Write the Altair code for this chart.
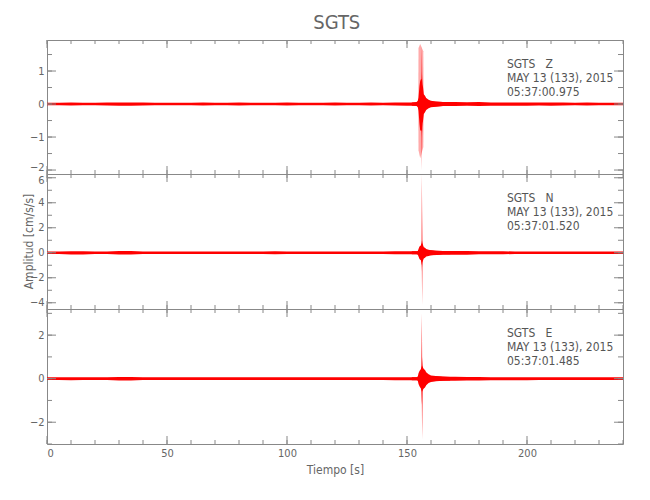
import altair as alt
import pandas as pd

# ---------------- data ----------------
# background envelope, sampled every 5 s (half amplitude)
t_bg = [0, 5, 10, 15, 20, 25, 30, 35, 40, 45, 50, 55, 60, 65, 70, 75, 80, 85,
        90, 95, 100, 105, 110, 115, 120, 125, 130, 135, 140, 145, 150, 155,
        160, 165, 170, 175, 180, 185, 190, 195, 200, 205, 210, 215, 220, 225,
        230, 235, 240]
z_bg = [0.04, 0.04, 0.045, 0.04, 0.04, 0.045, 0.05, 0.05, 0.045, 0.04, 0.04, 0.04,
        0.04, 0.045, 0.04, 0.04, 0.045, 0.04, 0.04, 0.04, 0.045, 0.04, 0.04, 0.04,
        0.045, 0.04, 0.04, 0.045, 0.04, 0.045, 0.05, 0.05, 0.08, 0.06,
        0.06, 0.055, 0.06, 0.05, 0.05, 0.05,
        0.05, 0.045, 0.05, 0.045, 0.04, 0.045, 0.04, 0.04, 0.04]
n_bg = [0.1, 0.1, 0.13, 0.13, 0.1, 0.1, 0.14, 0.14, 0.1, 0.1, 0.1, 0.1,
        0.1, 0.1, 0.1, 0.1, 0.1, 0.1, 0.1, 0.12, 0.1, 0.1, 0.1, 0.1,
        0.1, 0.1, 0.1, 0.1, 0.1, 0.12, 0.12, 0.12, 0.2, 0.15,
        0.15, 0.15, 0.12, 0.12, 0.12, 0.1,
        0.1, 0.1, 0.1, 0.1, 0.1, 0.1, 0.1, 0.1, 0.1]
e_bg = [0.06, 0.06, 0.07, 0.06, 0.06, 0.06, 0.08, 0.08, 0.06, 0.06, 0.06, 0.06,
        0.06, 0.06, 0.06, 0.06, 0.06, 0.06, 0.06, 0.06, 0.06, 0.06, 0.06, 0.06,
        0.06, 0.06, 0.06, 0.06, 0.06, 0.07, 0.07, 0.07, 0.12, 0.09,
        0.09, 0.08, 0.08, 0.07, 0.07, 0.07,
        0.07, 0.06, 0.06, 0.06, 0.06, 0.06, 0.06, 0.06, 0.06]

# event envelope (upper / lower)
t_ev = [152, 154, 154.5, 154.8, 155.2, 155.5, 155.8, 156.0, 156.1, 156.2, 156.3,
        156.4, 156.5, 156.7, 157.0, 157.5, 158.0, 159.0, 160.0, 162.0, 165.0, 168.0]
z_hi = [0.05, 0.06, 0.1, 0.2, 0.55, 0.7, 0.75, 0.75, 1.0, 1.76, 0.9,
        0.7, 0.6, 0.5, 0.3, 0.25, 0.18, 0.13, 0.1, 0.08, 0.06, 0.05]
z_lo = [-0.05, -0.06, -0.1, -0.2, -0.6, -0.8, -0.8, -0.8, -1.0, -2.02, -0.9,
        -0.7, -0.6, -0.5, -0.3, -0.25, -0.18, -0.13, -0.1, -0.08, -0.06, -0.05]
n_hi = [0.12, 0.12, 0.15, 0.3, 0.5, 0.55, 0.6, 0.8, 1.0, 6.3, 3.3,
        1.0, 0.8, 0.6, 0.45, 0.4, 0.3, 0.25, 0.2, 0.15, 0.12, 0.12]
n_lo = [-0.12, -0.12, -0.15, -0.3, -0.5, -0.55, -0.6, -0.9, -1.0, -1.5, -4.2,
        -1.2, -0.8, -0.6, -0.45, -0.4, -0.3, -0.25, -0.2, -0.15, -0.12, -0.12]
e_hi = [0.07, 0.07, 0.1, 0.25, 0.35, 0.4, 0.45, 0.6, 1.7, 3.0, 1.0,
        0.8, 0.6, 0.5, 0.45, 0.4, 0.3, 0.2, 0.15, 0.12, 0.1, 0.08]
e_lo = [-0.07, -0.07, -0.1, -0.25, -0.35, -0.4, -0.45, -0.6, -1.0, -1.2, -2.8,
        -1.6, -0.6, -0.5, -0.45, -0.4, -0.3, -0.2, -0.15, -0.12, -0.1, -0.08]

# light (dense) part of the Z trace
t_pk = [154.7, 154.8, 155.5, 156.8, 156.9]
pk_hi = [0.05, 1.7, 1.82, 1.6, 0.3]
pk_lo = [-0.05, -1.4, -1.64, -1.3, -0.3]

x_major = [0, 50, 100, 150, 200]
x_minor = [0, 10, 20, 30, 40, 50, 60, 70, 80, 90, 100, 110, 120, 130, 140, 150,
           160, 170, 180, 190, 200, 210, 220, 230, 240]

z_major = [-2, -1, 0, 1]
z_minor = [-2, -1.5, -1, -0.5, 0, 0.5, 1, 1.5]
n_major = [-4, -2, 0, 2, 4, 6]
n_minor = [-4, -3, -2, -1, 0, 1, 2, 3, 4, 5, 6]
e_major = [-2, 0, 2]
e_minor = [-3, -2, -1, 0, 1, 2, 3]

labels_z = "SGTS\u00a0\u00a0\u00a0Z\nMAY 13 (133), 2015\n05:37:00.975"
labels_n = "SGTS\u00a0\u00a0\u00a0N\nMAY 13 (133), 2015\n05:37:01.520"
labels_e = "SGTS\u00a0\u00a0\u00a0E\nMAY 13 (133), 2015\n05:37:01.485"

# ---------------- styling ----------------
FONT = "Liberation Sans Narrow, DejaVu Sans Condensed, sans-serif"
RED = "#ff0000"
GRAY = "#888888"
TXT = "#666666"
W = 576


def panel(amp, hi, lo, dom, major, minor, H, ann, ytitle=None, bottom=False,
          label_shift=None):
    xs = alt.Scale(domain=[0, 240], nice=False, zero=False)
    ys = alt.Scale(domain=dom, nice=False, zero=False)
    bg = pd.DataFrame({"t": t_bg, "hi": amp, "lo": [-a for a in amp]})
    ev = pd.DataFrame({"t": t_ev, "hi": hi, "lo": lo})

    if bottom:
        xaxis = alt.Axis(values=x_major, ticks=False, domain=False, grid=False,
                         labelPadding=3, title="Tiempo [s]", titlePadding=6,
                         format="d")
    else:
        xaxis = None
    yargs = dict(values=major, ticks=False, domain=False, grid=False, labelPadding=3)
    if label_shift is not None:
        yargs["labelOffset"] = alt.condition(
            "datum.value == %s" % label_shift[0], alt.value(label_shift[1]), alt.value(0))
    if ytitle:
        yaxis = alt.Axis(title=ytitle, titleX=-19, titleY=67,
                         titleBaseline="middle", titleAlign="center", titleAngle=270,
                         **yargs)
    else:
        yaxis = alt.Axis(title=None, **yargs)

    def X(f):
        return alt.X(f, scale=xs, axis=xaxis)

    def Y(f):
        return alt.Y(f, scale=ys, axis=yaxis)

    layers = [
        alt.Chart(bg).mark_area(color=RED, clip=True).encode(
            x=X("t:Q"), y=Y("hi:Q"), y2="lo:Q"),
    ]
    if ann == labels_z:
        pk = pd.DataFrame({"t": t_pk, "hi": pk_hi, "lo": pk_lo})
        layers.append(alt.Chart(pk).mark_area(color="#ffaaaa", clip=True).encode(
            x=X("t:Q"), y=Y("hi:Q"), y2="lo:Q"))
    layers.append(alt.Chart(ev).mark_area(color=RED, clip=True).encode(
        x=X("t:Q"), y=Y("hi:Q"), y2="lo:Q"))

    # inward ticks
    xmaj = pd.DataFrame({"v": x_major})
    xmin = pd.DataFrame({"v": x_minor})
    ymaj = pd.DataFrame({"v": major})
    ymin = pd.DataFrame({"v": minor})
    for df, L in ((xmin, 4), (xmaj, 8)):
        for y0, y1 in ((0, L), (H - L, H)):
            layers.append(alt.Chart(df).mark_rule(color=GRAY, strokeWidth=1).encode(
                x=X("v:Q"), y=alt.value(y0), y2=alt.value(y1)))
    for df, L in ((ymin, 5), (ymaj, 9)):
        for x0, x1 in ((0, L), (W - L, W)):
            layers.append(alt.Chart(df).mark_rule(color=GRAY, strokeWidth=1).encode(
                y=Y("v:Q"), x=alt.value(x0), x2=alt.value(x1)))

    layers.append(alt.Chart(pd.DataFrame({"s": [ann]})).mark_text(
        align="left", baseline="top", lineBreak="\n", lineHeight=14,
        font=FONT, fontSize=12, color="#555555").encode(
        x=alt.value(460), y=alt.value(19), text="s:N"))

    return alt.layer(*layers).properties(width=W, height=H)


p1 = panel(z_bg, z_hi, z_lo, [-2.12, 1.94], z_major, z_minor, 134, labels_z,
           label_shift=(-2, -3))
p2 = panel(n_bg, n_hi, n_lo, [-4.5, 6.3], n_major, n_minor, 135, labels_n,
           ytitle="Amplitud [cm/s/s]", label_shift=(6, 3))
p3 = panel(e_bg, e_hi, e_lo, [-3.0, 3.2], e_major, e_minor, 135, labels_e,
           bottom=True)

chart = alt.vconcat(p1, p2, p3, spacing=0, bounds="flush").properties(
    title=alt.Title("SGTS", fontSize=20, font=FONT, color=TXT,
                    fontWeight="normal", anchor="middle", offset=6, dx=14),
    padding={"left": 13, "top": 5, "right": 5, "bottom": 5},
).configure_view(stroke=GRAY, strokeWidth=1).configure_axis(
    labelFont=FONT, labelFontSize=11, labelColor=TXT,
    titleFont=FONT, titleFontSize=12, titleColor=TXT, titleFontWeight="normal",
)

chart.save("out.html", embed_options={"renderer": "svg", "actions": False})
